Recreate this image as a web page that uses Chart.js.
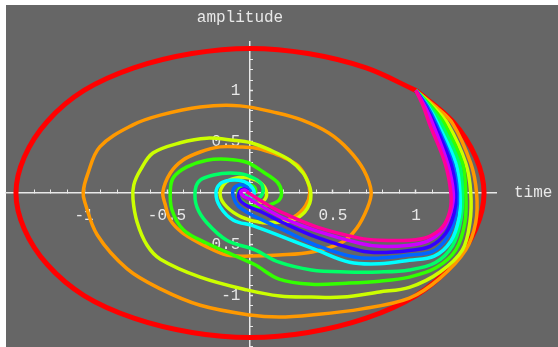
<!DOCTYPE html>
<html lang="en">
<head>
  <meta charset="UTF-8" />
  <title>Damped oscillations</title>
  <script src="https://cdn.jsdelivr.net/npm/chart.js"></script>
  <style>
    body {
      margin: 0;
      padding: 0;
      background: #ffffff;
    }
    canvas {
      display: block;
    }
  </style>
</head>
<body>
  <canvas id="phaseChart" width="558" height="347"></canvas>

  <script>
    // points, [time, amplitude]
    const red = [[1,1],[1.22,0.7],[1.36,0.35],[1.41,0],[1.36,-0.35],[1.22,-0.7],[1,-1],[0.7,-1.22],[0.35,-1.36],[0,-1.41],[-0.35,-1.36],[-0.7,-1.22],[-1,-1],[-1.22,-0.7],[-1.36,-0.35],[-1.41,0],[-1.36,0.35],[-1.22,0.7],[-1,1],[-0.7,1.22],[-0.35,1.36],[0,1.41],[0.35,1.36],[0.7,1.22],[1,1]];
    const orange = [[1,1],[1.12,0.84],[1.22,0.68],[1.33,0.29],[1.365,0],[1.36,-0.285],[1.30,-0.555],[1.145,-0.83],[0.96,-1.025],[0.675,-1.13],[0.37,-1.19],[0.175,-1.21],[0,-1.19],[-0.30,-1.095],[-0.54,-0.935],[-0.74,-0.74],[-0.92,-0.41],[-0.995,-0.09],[-1.005,0.01],[-0.98,0.175],[-0.905,0.45],[-0.705,0.665],[-0.54,0.76],[-0.30,0.84],[-0.06,0.85],[0.165,0.78],[0.315,0.71],[0.475,0.585],[0.595,0.42],[0.685,0.225],[0.73,0.01],[0.705,-0.155],[0.64,-0.35],[0.555,-0.48],[0.375,-0.575],[0.175,-0.605],[0,-0.615],[-0.14,-0.605],[-0.26,-0.525],[-0.405,-0.39],[-0.48,-0.265],[-0.51,-0.115],[-0.525,0.01],[-0.48,0.195],[-0.405,0.32],[-0.30,0.40],[-0.18,0.45],[-0.06,0.45],[0.03,0.44],[0.12,0.40],[0.20,0.35],[0.29,0.265],[0.345,0.125],[0.36,0],[0.335,-0.125],[0.265,-0.235],[0.17,-0.285],[0.07,-0.29]];
    const yellow = [[1,1],[1.105,0.84],[1.19,0.68],[1.30,0.29],[1.33,0],[1.325,-0.285],[1.28,-0.555],[1.145,-0.77],[0.96,-0.92],[0.78,-0.965],[0.555,-1.015],[0.37,-1.015],[0.18,-1.005],[-0.02,-0.945],[-0.30,-0.82],[-0.54,-0.645],[-0.62,-0.51],[-0.68,-0.285],[-0.705,-0.06],[-0.70,0.08],[-0.66,0.225],[-0.585,0.39],[-0.42,0.49],[-0.26,0.535],[-0.10,0.515],[0.005,0.49],[0.12,0.42],[0.24,0.32],[0.32,0.195],[0.36,0.06],[0.367,-0.02],[0.36,-0.10],[0.33,-0.185],[0.26,-0.265],[0.165,-0.285],[0.06,-0.285],[-0.05,-0.235],[-0.14,-0.135],[-0.18,-0.02],[-0.155,0.09],[-0.09,0.145],[0,0.145],[0.07,0.09],[0.10,0],[0.08,-0.08],[0.025,-0.105]];
    const green = [[1,1],[1.095,0.84],[1.17,0.68],[1.28,0.29],[1.30,0],[1.295,-0.285],[1.24,-0.555],[1.12,-0.73],[0.96,-0.82],[0.78,-0.86],[0.58,-0.88],[0.37,-0.89],[0.175,-0.84],[0.03,-0.70],[-0.10,-0.605],[-0.26,-0.49],[-0.40,-0.36],[-0.47,-0.165],[-0.48,0.03],[-0.46,0.155],[-0.38,0.255],[-0.26,0.32],[-0.14,0.33],[-0.02,0.30],[0.08,0.205],[0.165,0.105],[0.19,0.01],[0.175,-0.07],[0.12,-0.115],[0.05,-0.135],[-0.03,-0.105],[-0.07,-0.03],[-0.06,0.05],[-0.01,0.08],[0.03,0.05],[0.035,0]];
    const spring = [[1,1],[1.085,0.84],[1.15,0.68],[1.26,0.29],[1.28,0],[1.27,-0.265],[1.22,-0.515],[1.115,-0.68],[0.96,-0.75],[0.78,-0.77],[0.58,-0.77],[0.37,-0.75],[0.175,-0.675],[0.03,-0.555],[-0.14,-0.46],[-0.26,-0.29],[-0.32,-0.135],[-0.33,0.03],[-0.30,0.125],[-0.22,0.175],[-0.12,0.195],[-0.02,0.175],[0.06,0.105],[0.08,0.03],[0.06,-0.04],[0.02,-0.06],[-0.02,-0.03],[-0.01,0.01]];
    const cyan = [[1,1],[1.075,0.84],[1.13,0.68],[1.24,0.29],[1.265,0],[1.26,-0.235],[1.21,-0.47],[1.11,-0.615],[0.96,-0.655],[0.78,-0.69],[0.60,-0.675],[0.40,-0.555],[0.20,-0.43],[0.02,-0.32],[-0.10,-0.265],[-0.18,-0.135],[-0.205,0],[-0.18,0.09],[-0.12,0.125],[-0.04,0.115],[0.01,0.06],[0.025,-0.01],[0,-0.04]];
    const azure = [[1,1],[1.07,0.84],[1.12,0.68],[1.22,0.29],[1.25,0],[1.24,-0.215],[1.19,-0.43],[1.10,-0.57],[0.96,-0.605],[0.78,-0.635],[0.63,-0.625],[0.40,-0.51],[0.20,-0.36],[0.07,-0.26],[0,-0.205],[-0.07,-0.13],[-0.10,-0.04],[-0.10,0.04],[-0.06,0.08],[-0.02,0.06],[0.005,0.01]];
    const blue = [[1,1],[1.06,0.84],[1.11,0.68],[1.21,0.29],[1.24,0],[1.23,-0.195],[1.18,-0.39],[1.085,-0.52],[0.96,-0.56],[0.78,-0.58],[0.66,-0.56],[0.40,-0.43],[0.20,-0.29],[0.07,-0.185],[-0.01,-0.13],[-0.06,-0.07],[-0.066,0],[-0.04,0.04],[-0.01,0.02]];
    const violet = [[1,1],[1.055,0.84],[1.10,0.68],[1.19,0.29],[1.225,0],[1.21,-0.185],[1.16,-0.36],[1.07,-0.47],[0.96,-0.51],[0.78,-0.52],[0.66,-0.49],[0.40,-0.37],[0.20,-0.245],[0.07,-0.13],[0,-0.06],[-0.04,-0.03],[-0.055,0.01],[-0.035,0.03],[-0.01,0.01]];
    const magenta = [[1,1],[1.045,0.84],[1.08,0.68],[1.175,0.29],[1.21,0],[1.205,-0.17],[1.16,-0.33],[1.07,-0.43],[0.96,-0.46],[0.78,-0.46],[0.66,-0.44],[0.40,-0.33],[0.20,-0.195],[0.09,-0.10],[0,-0.01],[-0.02,0.01]];

    const curves = [red, orange, yellow, green, spring, cyan, azure, blue, violet, magenta];
    const colors = ['#ff0000', '#ff9900', '#ccff00', '#33ff00', '#00ff66', '#00ffff', '#0066ff', '#3300ff', '#cc00ff', '#ff0099'];

    const majorTicks = [-1, -0.5, 0.5, 1];
    const textColor = '#e8e8e8';
    const monoFont = { family: '"Liberation Mono", "DejaVu Sans Mono", monospace', size: 16 };

    function isMajor(v) {
      return majorTicks.some(m => Math.abs(m - v) < 1e-6);
    }

    function xTickLabel(v) {
      if (!isMajor(v)) return '';
      return String(Math.round(v * 2) / 2);
    }

    // y labels sit right-aligned on the axis line; a trailing space moves them off it
    function yTickLabel(v) {
      if (!isMajor(v)) return '';
      return String(Math.round(v * 2) / 2) + ' ';
    }

    // centred axes should not take room from the plot
    function noRoom(scale) {
      if (scale.isHorizontal()) scale.height = 0;
      else scale.width = 0;
      scale.paddingTop = 0;
      scale.paddingBottom = 0;
      scale.paddingLeft = 0;
      scale.paddingRight = 0;
    }

    // gray plot background and the two axis labels
    const frame = {
      id: 'frame',
      beforeDraw(chart) {
        const ctx = chart.ctx;
        ctx.save();
        ctx.fillStyle = '#666666';
        ctx.fillRect(6, 5, chart.width - 6, chart.height - 5);
        ctx.restore();
      },
      afterDraw(chart) {
        const { ctx, chartArea, scales } = chart;
        ctx.save();
        ctx.font = '16px "Liberation Mono", "DejaVu Sans Mono", monospace';
        ctx.fillStyle = textColor;
        ctx.textBaseline = 'middle';
        ctx.textAlign = 'center';
        ctx.fillText('amplitude', scales.x.getPixelForValue(0) - 10, chartArea.top - 24);
        ctx.textAlign = 'left';
        ctx.fillText('time', chartArea.right + 18, scales.y.getPixelForValue(0));
        ctx.restore();
      }
    };

    const datasets = curves.map((pts, i) => ({
      label: 'c' + i,
      data: pts.map(p => ({ x: p[0], y: p[1] })),
      showLine: true,
      borderColor: colors[i],
      borderWidth: i === 0 ? 5 : 3.5,
      pointRadius: 0,
      tension: 0.35,
      fill: false,
      order: curves.length - i
    }));

    const axisGrid = {
      drawOnChartArea: false,
      drawTicks: true,
      tickLength: -4,
      tickColor: textColor,
      tickWidth: ctx => (ctx.tick && isMajor(ctx.tick.value) ? 1.5 : 1)
    };

    new Chart(document.getElementById('phaseChart').getContext('2d'), {
      type: 'scatter',
      data: { datasets: datasets },
      options: {
        responsive: false,
        animation: false,
        layout: { padding: { left: 6, top: 42, right: 62, bottom: 0 } },
        plugins: {
          legend: { display: false },
          tooltip: { enabled: false }
        },
        scales: {
          x: {
            type: 'linear',
            position: { y: 0 },
            min: -1.47,
            max: 1.482,
            afterFit: noRoom,
            grid: axisGrid,
            border: { color: textColor, width: 1.5 },
            ticks: {
              stepSize: 0.1,
              includeBounds: false,
              autoSkip: false,
              maxRotation: 0,
              padding: 17,
              color: textColor,
              font: monoFont,
              callback: xTickLabel
            }
          },
          y: {
            type: 'linear',
            position: { x: 0 },
            min: -1.502,
            max: 1.473,
            afterFit: noRoom,
            grid: axisGrid,
            border: { color: textColor, width: 1.5 },
            ticks: {
              stepSize: 0.1,
              includeBounds: false,
              autoSkip: false,
              padding: 4,
              color: textColor,
              font: monoFont,
              callback: yTickLabel
            }
          }
        }
      },
      plugins: [frame]
    });
  </script>
</body>
</html>
